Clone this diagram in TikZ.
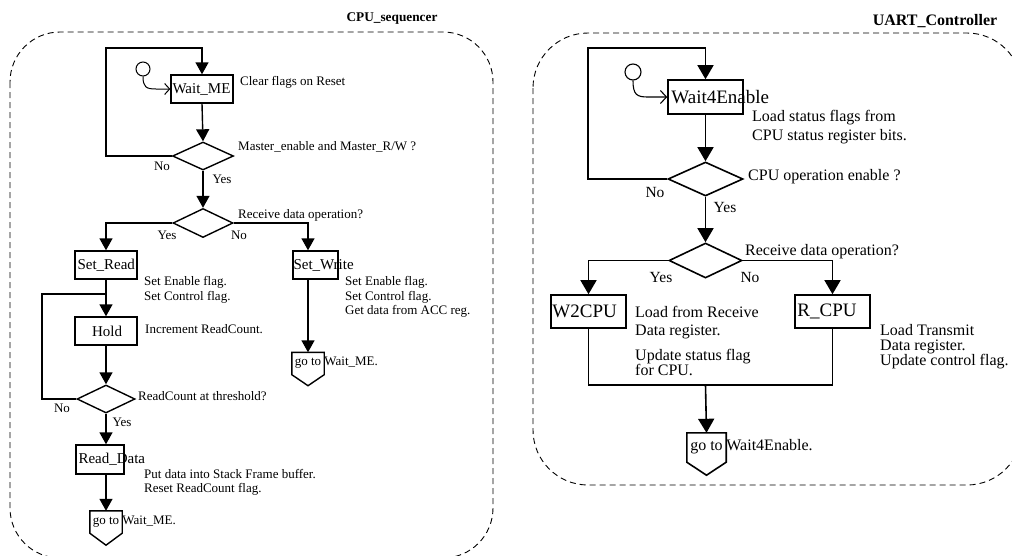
\documentclass[tikz,border=0pt]{standalone}
\usepackage{fontspec}
\setmainfont{Liberation Serif}
\usetikzlibrary{arrows.meta,shapes.geometric}
\begin{document}
\begin{tikzpicture}[x=1pt,y=-1pt,
  border/.style={dash pattern=on 6pt off 4pt,line width=0.9pt},
  flowL/.style={line width=1.4pt},
  arrL/.style={flowL,-{Triangle[length=12pt,width=13pt]}},
  initL/.style={line width=1pt,-{Straight Barb[length=5pt,width=11pt,line width=1pt]}},
  flowR/.style={line width=1.6pt},
  arrR/.style={flowR,-{Triangle[length=14pt,width=16pt]}},
  initR/.style={line width=1.1pt,-{Straight Barb[length=6pt,width=13pt,line width=1.1pt]}},
  boxL/.style={draw,flowL,rectangle,inner sep=0pt},
  boxR/.style={draw,flowR,rectangle,inner sep=0pt},
  decL/.style={draw,flowL,diamond,inner sep=0pt},
  decR/.style={draw,flowR,diamond,inner sep=0pt},
  txtL/.style={inner sep=0pt,anchor=west,align=left,font=\fontsize{13}{14.5}\selectfont},
  txtR/.style={inner sep=0pt,anchor=west,align=left,font=\fontsize{16}{17}\selectfont},
  lblL/.style={inner sep=0pt,font=\fontsize{15}{17}\selectfont},
  lblR/.style={inner sep=0pt,font=\fontsize{19}{21}\selectfont},
  ynL/.style={inner sep=0pt,font=\fontsize{13}{15}\selectfont},
  ynR/.style={inner sep=0pt,font=\fontsize{15.5}{17}\selectfont},
  gotoL/.style={inner sep=0pt,minimum width=32pt,minimum height=22pt,font=\fontsize{13}{15}\selectfont},
  gotoR/.style={inner sep=0pt,minimum width=39pt,minimum height=29pt,font=\fontsize{16}{18}\selectfont},
]
\useasboundingbox (0,0) rectangle (1012,555);
\begin{scope}
\clip (0,0) rectangle (1012,555);
% cluster borders
\draw[border,rounded corners=50pt] (10,32) rectangle (493,558);
\draw[border,rounded corners=55pt] (533,33) rectangle (1022,485);
\end{scope}
\node[inner sep=0pt,font=\fontsize{13.3}{15}\selectfont\bfseries] (t1) at (392,19) {CPU\_sequencer};
\node[inner sep=0pt,font=\fontsize{16}{18}\selectfont\bfseries] (t2) at (935,21) {UART\_Controller};

% ---------------- CPU_sequencer ----------------
\node[boxL,minimum width=62pt,minimum height=28pt] (wait) at (202,89) {};
\node[lblL,anchor=west] at ([xshift=2pt]wait.west) {Wait\_ME};
\node[circle,draw,line width=1pt,minimum size=14pt,inner sep=0pt] (c1) at (143,69) {};
\draw[initL] (c1.south) .. controls (143,87) and (146,89) .. (156,89) -- (wait.west);
\node[txtL] at (240,82) {Clear flags on Reset};

\node[decL,minimum width=61pt,minimum height=28pt] (d1) at (203,156) {};
\node[txtL] at (238,147) {Master\_enable and Master\_R/W ?};
\node[ynL] at (162,166) {No};
\node[ynL] at (222,179) {Yes};
\coordinate (lp1) at (106,48);
\draw[arrL] (wait.south) -- (d1.north);
\draw[arrL] (d1.west) -| (lp1) -| (wait.north);

\node[decL,minimum width=60pt,minimum height=29pt] (d2) at (203,223) {};
\node[txtL] at (238,215) {Receive data operation?};
\node[ynL] at (167,235) {Yes};
\node[ynL] at (239,235) {No};
\draw[arrL] (d1.south) -- (d2.north);

\node[boxL,minimum width=62pt,minimum height=28pt] (setread) at (106,265) {};
\node[lblL,anchor=west] at ([xshift=3pt]setread.west) {Set\_Read};
\node[txtL] at (144,290) {Set Enable flag.\\Set Control flag.};
\draw[arrL] (d2.west) -| (setread.north);

\node[boxL,minimum width=45pt,minimum height=28pt] (setwrite) at (315.5,265) {};
\node[lblL,anchor=west] at ([xshift=1pt]setwrite.west) {Set\_Write};
\node[txtL] at (345,297) {Set Enable flag.\\Set Control flag.\\Get data from ACC reg.};
\draw[arrL] (d2.east) -| ([xshift=-7.5pt]setwrite.north);

\node[gotoL] (g2) at (308,363.5) {go to};
\draw[flowL] (g2.north west) -- (g2.south west) -- ([yshift=-11pt]g2.south) -- (g2.south east) -- (g2.north east) -- cycle;
\node[txtL,anchor=base west] at (g2.base east) {Wait\_ME.};
\draw[arrL] ([xshift=-7.5pt]setwrite.south) -- (g2.north);

\node[boxL,minimum width=62pt,minimum height=28pt] (hold) at (106,331) {};
\node[lblL] at ([xshift=1pt]hold.center) {Hold};
\node[txtL] at (145,329) {Increment ReadCount.};
\draw[arrL] (setread.south) -- (hold.north);

\node[decL,minimum width=58pt,minimum height=28pt] (d3) at (106,399) {};
\node[txtL] at (138,396) {ReadCount at threshold?};
\node[ynL] at (62,408) {No};
\node[ynL] at (122,422) {Yes};
\draw[arrL] (hold.south) -- (d3.north);
\coordinate (lp2) at (42,294);
\draw[flowL] (d3.west) -| (lp2) -- (lp2 -| hold.north);

\node[boxL,minimum width=48pt,minimum height=29pt] (readdata) at (100,459.5) {};
\node[lblL,anchor=west] at ([xshift=3pt]readdata.west) {Read\_Data};
\node[txtL] at (144,482.5) {Put data into Stack Frame buffer.\\Reset ReadCount flag.};
\draw[arrL] (d3.south) -- (d3.south |- readdata.north);

\node[gotoL] (g1) at (106,522) {go to};
\draw[flowL] (g1.north west) -- (g1.south west) -- ([yshift=-12pt]g1.south) -- (g1.south east) -- (g1.north east) -- cycle;
\node[txtL,anchor=base west] at (g1.base east) {Wait\_ME.};
\draw[arrL] (g1.north |- readdata.south) -- (g1.north);

% ---------------- UART_Controller ----------------
\node[boxR,minimum width=75pt,minimum height=34pt] (w4e) at (705.5,97) {};
\node[lblR,anchor=west] at ([xshift=4pt]w4e.west) {Wait4Enable};
\node[circle,draw,line width=1.1pt,minimum size=16pt,inner sep=0pt] (c2) at (633,72) {};
\draw[initR] (c2.south) .. controls (633,95) and (637,97) .. (648,97) -- (w4e.west);
\node[txtR,font=\fontsize{16}{19}\selectfont] at (752,127.5) {Load status flags from\\CPU status register bits.};

\node[decR,minimum width=75pt,minimum height=34pt] (d4) at (705.5,179) {};
\node[txtR] at (748,177) {CPU operation enable ?};
\node[ynR] at (655,192) {No};
\node[ynR] at (725,207) {Yes};
\coordinate (lp3) at (588,48);
\draw[arrR] (w4e.south) -- (d4.north);
\draw[arrR] (d4.west) -| (lp3) -| (w4e.north);

\node[decR,minimum width=73pt,minimum height=35pt] (d5) at (705.5,260.5) {};
\node[txtR] at (745,252) {Receive data operation?};
\node[ynR] at (661,277) {Yes};
\node[ynR] at (750,277) {No};
\draw[arrR] (d4.south) -- (d5.north);

\node[boxR,minimum width=75pt,minimum height=33pt] (w2cpu) at (588.5,311.5) {};
\node[lblR,anchor=west] at ([xshift=2pt]w2cpu.west) {W2CPU};
\node[txtR,font=\fontsize{16}{18}\selectfont] at (635,323) {Load from Receive\\Data register.};
\node[txtR,font=\fontsize{16}{15}\selectfont] at (635,362) {Update status flag\\for CPU.};
\draw[arrR] (d5.west) -| (w2cpu.north);

\node[boxR,minimum width=75pt,minimum height=33pt] (rcpu) at (832.5,311.5) {};
\node[lblR,anchor=west] at ([xshift=3pt]rcpu.west) {R\_CPU};
\node[txtR,font=\fontsize{16}{15}\selectfont] at (880,347) {Load Transmit\\Data register.\\Update control flag.};
\draw[arrR] (d5.east) -| (rcpu.north);

\coordinate (m) at (705.5,385);
\draw[flowR] (w2cpu.south) |- (m) -| (rcpu.south);
\node[gotoR] (g3) at (706.5,447.5) {go to};
\draw[flowR] (g3.north west) -- (g3.south west) -- ([yshift=-13pt]g3.south) -- (g3.south east) -- (g3.north east) -- cycle;
\node[txtR,anchor=base west] at (g3.base east) {Wait4Enable.};
\draw[arrR] (m) -- (g3.north);
\end{tikzpicture}
\end{document}
